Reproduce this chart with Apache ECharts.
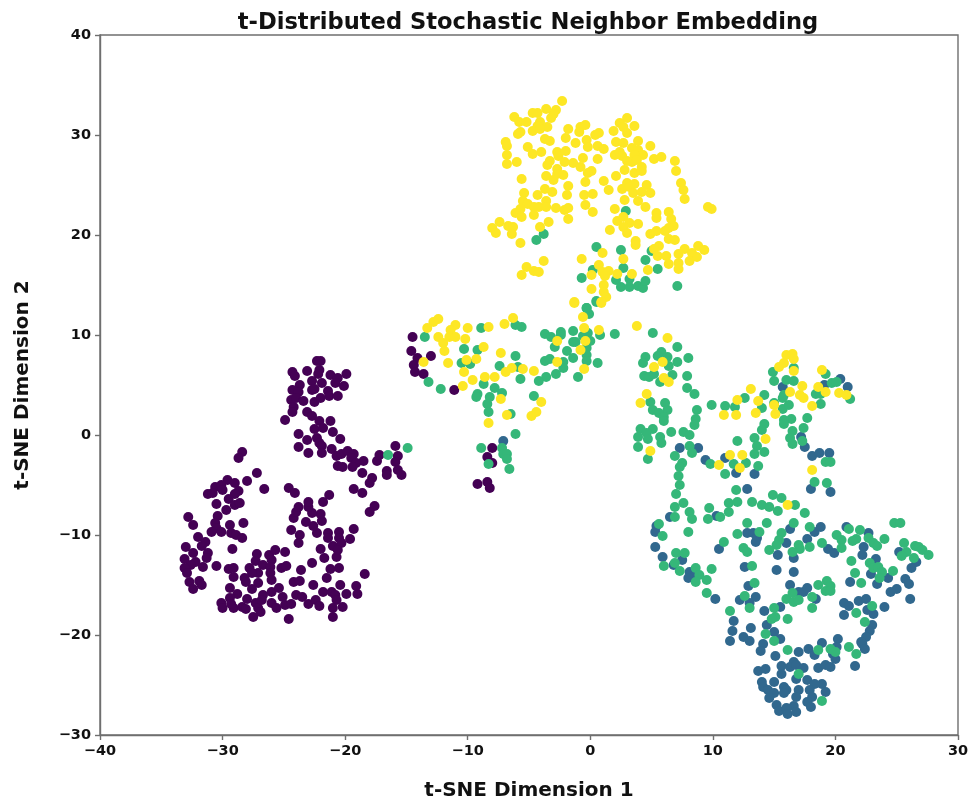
<!DOCTYPE html>
<html>
<head>
<meta charset="utf-8">
<style>html,body{margin:0;padding:0;background:#fff}#c{width:973px;height:804px}</style>
<script src="https://cdn.jsdelivr.net/npm/echarts@6/dist/echarts.min.js"></script>
</head>
<body>
<div id="c"></div>
<script>
const titleText = 't-Distributed Stochastic Neighbor Embedding';
const xName = 't-SNE Dimension 1';
const yName = 't-SNE Dimension 2';
const class0 = [[-22.3,7.4],[-22.0,7.4],[-23.1,6.4],[-24.3,6.3],[-24.1,5.9],[-22.1,6.5],[-22.2,6.1],[-21.2,6.0],[-19.9,6.1],[-20.6,5.7],[-22.7,5.4],[-23.7,5.0],[-21.9,5.2],[-20.8,5.2],[-20.1,4.9],[-24.3,4.5],[-23.8,4.3],[-22.7,4.5],[-22.5,4.6],[-21.4,4.4],[-21.3,3.9],[-20.6,3.9],[-24.4,3.5],[-24.0,3.7],[-23.4,3.4],[-22.5,3.3],[-22.0,3.7],[-24.2,2.8],[-24.3,2.3],[-24.9,1.5],[-23.1,2.3],[-22.7,1.9],[-22.1,1.4],[-21.2,1.4],[-22.5,0.6],[-21.8,0.7],[-21.0,0.3],[-23.8,0.1],[-22.3,-0.3],[-23.1,-0.5],[-20.4,-0.4],[-22.1,-0.8],[-23.8,-1.2],[-21.9,-1.1],[-23.0,-1.8],[-21.9,-1.8],[-21.1,-1.4],[-20.7,-2.1],[-20.3,-1.9],[-19.8,-1.6],[-19.3,-1.9],[-19.5,-2.3],[-18.5,-2.6],[-19.1,-2.8],[-17.4,-2.6],[-17.2,-2.0],[-15.9,-1.1],[-15.7,-2.1],[-15.9,-2.7],[-20.6,-3.1],[-20.2,-3.2],[-19.4,-3.2],[-18.6,-3.8],[-17.8,-4.3],[-18.0,-4.8],[-16.6,-3.6],[-16.6,-4.0],[-15.7,-3.5],[-15.4,-4.0],[-19.3,-5.4],[-18.6,-5.8],[-17.6,-7.1],[-18.0,-7.7],
[-28.4,-1.7],[-28.7,-2.3],[-27.2,-3.8],[-28.0,-4.6],[-29.6,-4.5],[-29.0,-4.8],[-30.6,-5.2],[-30.1,-5.0],[-31.2,-5.9],[-30.8,-5.8],[-30.0,-5.5],[-28.7,-5.6],[-29.0,-5.9],[-29.5,-6.4],[-26.6,-5.4],[-24.6,-5.3],[-24.1,-5.8],[-30.5,-6.9],[-29.0,-7.0],[-28.6,-6.8],[-29.7,-7.5],[-32.8,-8.2],[-30.4,-8.1],[-32.4,-9.0],[-30.6,-8.8],[-29.4,-9.0],[-28.3,-8.8],[-30.5,-9.3],[-30.9,-9.7],[-30.1,-9.7],[-29.3,-9.8],[-28.9,-10.0],[-28.4,-10.3],[-32.0,-10.2],[-31.4,-10.7],[-31.7,-11.1],[-33.0,-11.2],[-29.2,-11.4],[-32.4,-11.8],[-31.2,-11.8],[-31.3,-12.3],[-33.1,-12.4],[-32.2,-12.7],[-32.6,-13.0],[-31.6,-13.2],[-33.1,-13.3],[-32.9,-13.8],[-30.5,-13.1],[-32.7,-14.7],[-31.9,-14.6],[-31.7,-15.0],[-32.4,-15.4],[-29.5,-13.4],[-29.1,-13.3],[-29.1,-14.2],[-27.8,-13.3],[-27.2,-11.9],[-27.3,-12.6],[-26.7,-13.0],[-26.2,-12.0],[-25.7,-11.5],[-26.0,-12.5],[-24.9,-11.7],[-25.2,-13.3],[-24.8,-13.1],[-26.1,-13.2],[-27.1,-13.8],[-27.6,-13.8],[-26.1,-13.8],[-28.2,-14.3],[-28.1,-14.7],[-27.1,-14.8],[-27.6,-15.4],[-26.0,-14.5],[-29.4,-15.3],[-28.8,-15.9],[-29.4,-16.3],[-30.1,-16.8],[-30.0,-17.3],[-29.1,-17.3],[-29.3,-16.9],[-28.4,-17.2],[-28.1,-17.4],[-28.0,-16.4],[-27.5,-18.2],[-27.3,-16.8],[-27.1,-17.3],[-26.9,-17.7],[-26.7,-16.0],[-26.8,-16.5],[-26.0,-15.7],[-25.4,-15.3],[-25.1,-16.2],[-26.0,-16.8],[-25.6,-17.3],[-24.9,-17.0],[-24.4,-16.9],[-24.6,-18.4],[-24.0,-16.0],[-23.5,-16.2],[-23.0,-16.9],[-22.4,-16.5],[-22.1,-17.1],[-21.8,-15.7],[-21.1,-15.7],[-20.8,-16.0],[-20.4,-15.0],[-20.7,-16.5],[-19.9,-15.9],[-19.1,-15.1],[-19.0,-15.9],[-21.0,-17.3],[-20.2,-17.2],[-21.0,-18.2],[-24.2,-14.7],[-23.7,-14.6],[-22.6,-15.0],[-21.5,-14.3],[-23.6,-13.5],[-22.7,-12.8],[-21.2,-13.4],[-20.5,-13.3],[-18.4,-13.9],[-21.7,-12.3],[-22.0,-11.4],[-20.7,-12.2],[-24.4,-9.5],[-23.7,-10.0],[-23.8,-10.8],[-21.4,-9.8],[-21.4,-10.3],[-20.5,-9.7],[-20.5,-10.3],[-21.0,-11.1],[-20.3,-10.8],[-20.6,-11.5],[-19.6,-10.4],[-19.3,-9.4],[-22.3,-9.8],[-22.6,-9.1],[-23.2,-8.7],[-21.9,-8.6],[-22.0,-7.9],[-22.7,-7.8],[-23.0,-7.2],[-23.0,-6.7],[-24.2,-8.3],[-24.0,-7.7],[-23.8,-7.2],[-21.8,-6.7],[-21.3,-6.0],
[-14.5,9.8],[-14.6,8.4],[-14.1,7.7],[-13.0,7.9],[-14.4,7.0],[-14.3,6.3],[-13.6,6.1],[-11.1,4.5],[-8.0,-1.3],[-8.4,-2.2],[-8.0,-2.8],[-9.2,-4.9],[-8.4,-4.7],[-8.2,-5.3]];
const class1 = [[-7.1,-0.6],[7.3,-1.3],[8.8,-1.3],[9.4,-2.5],[11.0,-2.3],[11.9,-3.8],[13.4,-3.9],[15.7,4.8],[19.1,5.0],[20.4,5.6],[21.0,4.8],[17.2,-0.2],[17.5,-1.2],[18.1,-2.1],[18.7,-1.8],[19.5,-1.8],[18.0,-5.4],[19.6,-5.7],[12.8,-5.4],[10.3,-8.1],[6.5,-8.2],
[5.4,-9.1],[5.3,-9.7],[5.3,-11.2],[5.9,-12.2],[6.8,-13.0],[7.5,-12.5],[8.1,-13.7],[8.6,-13.9],[8.0,-14.3],[10.5,-11.4],[12.8,-9.8],[13.3,-9.8],[13.6,-10.3],[13.5,-10.7],[16.0,-10.8],[16.3,-9.4],[15.3,-12.0],[16.6,-12.3],[17.7,-10.4],[18.3,-9.7],[18.8,-9.2],[19.4,-11.4],[19.9,-11.8],[20.9,-9.2],[22.7,-9.8],[22.3,-11.2],[22.2,-12.0],[23.3,-12.4],[22.9,-13.9],[24.3,-14.3],[23.4,-14.9],[21.2,-14.7],[25.2,-11.7],[26.6,-12.7],[26.2,-13.3],[25.7,-14.4],[26.0,-14.9],[25.0,-15.4],[24.5,-15.7],[26.1,-16.4],[12.6,-13.2],[15.2,-13.5],[16.6,-13.7],[12.9,-15.1],[12.2,-16.5],[13.5,-16.2],[13.0,-16.8],[10.2,-16.4],[16.3,-15.0],[17.0,-15.7],[17.4,-15.7],[17.7,-15.3],[18.4,-16.4],[15.5,-17.2],[14.2,-17.6],[11.7,-18.6],[11.6,-19.6],[13.1,-19.3],[14.4,-19.0],[15.0,-19.7],[11.4,-20.6],[12.5,-20.2],[13.0,-20.6],[15.5,-20.4],[14.1,-20.9],[13.9,-21.6],[15.1,-22.1],[17.0,-21.7],[17.8,-21.4],[18.3,-22.0],[18.9,-20.8],[20.2,-20.4],[20.1,-21.2],[19.8,-21.9],[20.0,-22.4],[20.7,-16.8],[21.1,-17.1],[21.9,-16.6],[22.5,-16.4],[20.7,-18.0],[22.6,-17.5],[24.0,-17.2],[23.1,-17.9],[23.0,-19.0],[22.8,-19.6],[22.5,-20.2],[22.1,-20.7],[22.2,-20.9],[22.4,-21.4],[21.6,-23.1],[13.7,-23.6],[14.3,-23.4],[15.6,-23.1],[16.6,-22.7],[16.3,-23.2],[16.8,-23.0],[17.4,-23.3],[15.6,-23.9],[18.6,-23.3],[19.2,-23.0],[19.6,-23.2],[16.8,-24.4],[17.7,-24.5],[14.0,-24.7],[14.1,-25.2],[15.0,-24.7],[15.8,-25.2],[18.9,-24.9],[18.3,-24.9],[17.9,-25.5],[19.2,-25.7],[14.5,-25.5],[15.0,-25.8],[16.0,-25.5],[15.8,-25.8],[17.0,-25.5],[16.8,-26.2],[18.1,-26.2],[14.6,-26.3],[17.7,-26.7],[18.0,-27.2],[15.2,-27.0],[15.4,-27.6],[16.6,-27.1],[16.0,-27.3],[16.1,-27.9],[16.8,-27.7]];
const class2 = [[-16.5,-2.0],[-14.9,-1.3],[-13.5,9.8],[-8.9,10.7],[-6.1,11.0],[-5.6,10.8],[-3.7,10.1],[-3.2,9.8],[-2.4,10.3],[-2.4,10.0],[-1.4,10.4],[-0.6,9.9],[-0.2,10.2],[0.8,10.0],[2.0,10.1],[-2.9,8.8],[-1.4,9.3],[-1.2,9.3],[0.0,9.4],[-0.3,8.7],[-1.9,8.4],[-1.4,7.7],[-0.3,8.0],[-0.3,7.4],[0.6,7.2],[-3.7,7.4],[-3.3,7.6],[-2.2,7.3],[-2.2,6.7],[-2.8,6.1],[-3.6,5.8],[-4.2,5.4],[-1.0,5.8],[-10.3,8.6],[-9.2,8.5],[-10.5,7.2],[-9.8,7.1],[-6.1,7.9],[-7.4,6.9],[-5.9,6.8],[-5.7,5.6],[-13.2,5.3],[-12.2,4.6],[-8.7,5.1],[-7.8,4.7],[-7.2,4.2],[-9.2,4.1],[-9.3,3.8],[-8.2,3.8],[-8.4,3.1],[-8.3,2.3],[-6.5,2.1],[-4.6,3.9],[-6.1,0.1],[-8.9,-1.3],[-7.2,-1.3],[-7.1,-1.9],[-6.8,-1.9],[-6.8,-2.4],[-8.3,-2.9],[-6.6,-3.4],[-0.3,12.7],[-0.1,12.1],[0.5,13.3],
[2.9,22.4],[-3.8,20.1],[-4.4,19.5],[0.5,18.8],[2.5,18.5],[5.0,18.4],[4.5,17.5],[5.5,16.6],[2.7,16.7],[0.2,16.5],[-0.7,15.7],[2.1,15.5],[3.2,15.6],[2.5,14.8],[3.2,14.8],[3.9,14.9],[4.3,14.7],[4.5,15.4],[7.1,14.9],[0.5,13.4],[-0.3,12.7],
[5.1,10.2],[7.1,8.8],[8.0,7.7],[4.5,7.8],[4.3,7.2],[5.8,8.3],[5.5,7.9],[6.3,7.8],[7.1,7.3],[6.4,6.9],[6.7,6.0],[7.9,5.9],[4.4,5.9],[4.8,5.8],[5.2,6.1],[5.7,5.3],[7.9,4.7],[8.5,4.1],[4.9,3.3],[6.1,3.2],[5.1,2.5],[6.3,2.5],[5.6,2.2],[6.0,1.8],[6.0,1.4],[8.7,2.5],[8.6,1.6],[8.5,1.0],[4.1,0.6],[5.1,0.6],[4.6,0.2],[4.7,-0.4],[3.9,-0.2],[3.9,-1.2],[5.7,-0.2],[5.8,-0.8],[6.6,0.3],[7.6,0.3],[8.1,0.0],[8.1,-1.1],[8.3,-1.8],[4.7,-2.4],[6.9,-2.1],[7.5,-2.8],[7.3,-3.2],[7.2,-4.1],[7.3,-5.0],[7.0,-5.9],[7.6,-6.8],[6.9,-7.2],[8.1,-7.7],[6.9,-8.2],[8.3,-8.4],[9.9,3.0],[11.0,2.9],[11.8,2.8],[12.6,3.7],[14.2,4.0],[14.0,2.7],[15.0,3.2],[15.7,2.6],[15.8,4.0],[16.2,3.0],[14.9,6.3],[15.0,5.4],[16.6,6.7],[16.0,5.5],[16.6,5.4],[15.7,3.7],[18.4,4.1],[18.8,4.1],[19.2,6.1],[19.7,5.2],[20.1,5.3],[21.2,3.6],[18.8,3.1],[17.7,1.7],[17.4,0.7],[16.4,1.6],[15.8,1.5],[15.8,1.1],[14.2,1.1],[14.0,0.5],[13.4,-0.3],[12.0,-0.6],[16.5,0.4],[16.3,-0.3],[16.5,-0.9],[17.3,-0.6],[13.6,-1.1],[13.4,-1.9],[14.2,-1.7],[12.7,-2.8],[11.7,-2.9],[13.7,-3.1],[9.8,-2.9],[11.0,-3.9],[19.2,-2.7],[19.6,-2.7],[18.3,-4.7],[19.3,-4.8],[11.9,-5.5],[14.9,-6.0],[15.6,-6.3],[16.7,-7.0],[17.5,-7.8],[11.3,-6.8],[12.0,-6.7],[13.2,-6.7],[14.0,-7.0],[14.6,-7.2],[15.3,-7.6],[9.7,-7.3],[11.3,-7.7],[10.6,-8.2],[9.6,-8.4],
[5.6,-8.9],[5.9,-10.1],[8.0,-9.7],[12.8,-8.8],[14.4,-8.8],[16.6,-8.8],[17.9,-9.2],[12.0,-9.9],[10.9,-10.7],[13.8,-9.7],[15.6,-9.8],[15.4,-10.5],[15.2,-11.0],[14.6,-11.5],[12.5,-11.3],[12.8,-11.7],[17.0,-11.0],[17.1,-11.4],[16.5,-11.7],[17.9,-11.2],[18.9,-10.8],[20.1,-10.0],[20.5,-10.5],[20.5,-11.3],[21.1,-9.4],[22.0,-9.5],[21.7,-10.4],[21.4,-10.6],[22.7,-10.3],[23.1,-10.8],[23.4,-11.1],[24.0,-10.4],[24.8,-8.8],[25.3,-8.8],[25.6,-10.8],[25.8,-11.7],[25.4,-12.1],[26.5,-11.1],[26.8,-11.2],[27.1,-11.5],[27.6,-12.0],[26.4,-12.3],[21.3,-12.6],[21.6,-13.8],[22.1,-14.8],[22.8,-12.8],[23.1,-13.3],[23.5,-13.2],[23.8,-13.7],[23.6,-14.3],[24.7,-13.6],[7.0,-11.8],[7.7,-11.8],[6.0,-13.1],[6.9,-12.8],[7.3,-13.6],[8.6,-13.3],[8.9,-14.0],[8.6,-14.7],[9.9,-13.4],[9.5,-14.5],[9.5,-15.8],[13.2,-13.1],[13.4,-14.8],[12.6,-16.1],[13.0,-17.3],[11.4,-17.6],[15.0,-17.3],[15.1,-18.2],[14.8,-18.4],[16.1,-18.4],[18.1,-17.3],[18.1,-16.2],[16.0,-16.4],[16.5,-15.8],[16.6,-16.7],[17.0,-16.5],[18.6,-15.0],[19.3,-14.6],[19.6,-15.1],[19.2,-15.6],[19.6,-15.6],[21.7,-17.8],[22.4,-18.7],[23.0,-17.1],[14.3,-19.9],[15.0,-20.6],[16.1,-21.5],[18.6,-21.5],[19.6,-21.4],[20.0,-21.7],[21.1,-21.2],[21.7,-21.9],[17.0,-23.9],[18.9,-26.6]];
const class3 = [[-12.4,11.6],[-12.8,11.3],[-13.3,10.7],[-11.0,11.0],[-11.4,10.5],[-10.0,10.7],[-8.3,10.8],[-7.0,11.1],[-6.3,11.7],[-12.4,9.8],[-11.5,9.8],[-11.0,9.8],[-10.2,9.6],[-12.0,9.2],[-11.9,8.4],[-8.7,8.8],[-9.3,7.6],[-10.1,7.5],[-13.6,7.3],[-11.6,7.2],[-7.3,8.2],[-10.3,6.3],[-6.4,6.7],[-6.9,6.3],[-5.5,6.6],[-4.6,6.4],[-8.6,5.8],[-7.8,5.8],[-9.6,5.5],[-10.4,4.9],[-7.3,3.6],[-4.0,3.3],[-4.4,2.3],[-4.8,1.9],[-6.8,2.0],[-8.3,1.2],[-2.7,9.4],[-0.4,9.4],[-0.8,8.5],[0.7,10.5],[-0.5,10.7],[-2.7,7.3],[-0.5,6.6],[3.8,10.9],[-1.3,13.2],[-0.6,11.8],[0.9,13.2],
[-2.3,33.4],[-2.8,32.5],[-3.0,32.1],[-3.2,31.7],[-3.6,32.6],[-4.3,32.2],[-4.7,32.2],[-6.2,31.8],[-5.8,31.3],[-5.2,31.3],[-4.1,31.3],[-4.3,30.9],[-3.5,30.8],[-4.7,30.4],[-4.1,30.6],[-5.7,30.3],[-5.9,30.1],[-1.8,30.6],[-0.8,30.8],[-0.4,31.0],[-0.9,30.3],[-2.0,29.7],[-3.7,29.6],[-3.3,29.4],[-1.2,29.2],[0.4,30.0],[0.7,30.2],[-0.3,29.5],[-0.2,28.8],[0.6,28.9],[1.1,28.6],[1.9,30.4],[2.4,31.2],[3.0,31.7],[3.6,30.9],[2.7,30.8],[3.0,30.2],[2.1,29.3],[2.7,29.2],[3.9,29.4],[4.9,28.9],[-6.9,29.3],[-6.8,28.9],[-6.8,28.0],[-6.8,27.1],[-6.0,27.3],[-5.1,28.8],[-4.7,28.1],[-4.0,28.3],[-2.7,28.3],[-2.6,27.9],[-2.0,28.4],[-3.3,27.4],[-3.5,27.0],[-2.1,27.3],[-1.4,27.2],[-0.6,27.7],[-0.8,26.8],[0.6,27.6],[2.0,28.0],[2.4,28.3],[2.6,27.9],[3.4,28.7],[3.9,28.5],[4.3,28.0],[3.6,28.0],[3.0,27.4],[3.4,27.3],[3.8,27.5],[5.2,27.6],[5.8,27.8],[6.9,27.4],[7.0,26.4],[4.2,26.8],[2.8,26.5],[3.6,26.2],[4.2,26.4],[-2.7,26.6],[-3.6,25.9],[-2.7,26.1],[-2.2,26.0],[-3.0,25.5],[0.1,26.4],[-0.2,26.2],[-0.4,25.3],[-5.6,25.6],[1.1,25.4],[2.1,25.9],[-1.8,24.9],[1.5,24.5],[2.6,24.6],[3.0,25.2],[3.6,25.1],[3.2,24.8],[4.6,25.0],[7.4,25.2],[7.6,24.5],[7.7,23.6],[-3.7,24.6],[-3.1,24.3],[-4.3,24.0],[-5.4,24.2],[-1.9,24.0],[-0.5,24.0],[0.2,24.1],[3.5,24.2],[4.2,24.3],[4.9,24.2],[2.8,23.5],[3.9,23.4],[-5.5,23.4],[-5.1,23.1],[-3.6,23.4],[-4.6,22.8],[-4.2,22.8],[-3.6,22.8],[-5.7,22.6],[-6.1,22.2],[-5.6,21.8],[-4.6,22.0],[-2.8,22.7],[-2.1,22.5],[-1.8,22.7],[-0.4,23.0],[0.2,22.3],[2.0,22.6],[4.5,22.8],[-1.8,21.6],[-3.4,21.3],[2.2,21.4],[2.7,21.8],[3.2,21.2],[3.9,21.1],[5.4,22.2],[5.4,21.7],[6.4,22.3],[6.6,21.6],[6.8,20.9],[6.4,20.7],[9.6,22.8],[9.9,22.6],[-7.4,21.3],[-8.0,20.7],[-7.7,20.2],[-6.7,20.9],[-6.3,20.8],[-6.4,20.1],[-4.1,20.8],[-5.7,19.2],[1.6,20.5],[2.7,20.8],[3.0,20.2],[4.9,20.1],[5.4,20.4],[6.1,20.4],[6.4,19.6],[6.9,19.5],[3.7,19.4],[3.7,19.0],[5.6,18.9],[5.2,18.6],[5.5,17.9],[6.2,17.9],[7.2,18.1],[7.7,18.6],[8.3,18.2],[8.8,18.9],[9.3,18.5],[8.7,17.8],[8.1,17.4],[7.2,17.2],[7.2,16.6],[6.4,17.1],[4.7,16.5],[1.0,18.2],[-0.7,17.6],[2.7,17.6],[-3.8,17.4],[-5.2,16.8],[-4.6,16.4],[-4.2,16.3],[-5.6,16.0],[0.7,17.0],[1.0,16.3],[1.5,16.4],[1.2,15.9],[0.1,16.0],[2.2,16.1],[3.4,16.1],[1.1,15.0],[0.1,14.6],[1.1,14.3],[1.3,13.8],[0.9,13.3],[-1.3,13.3],
[6.3,9.7],[5.2,6.8],[5.9,7.3],[6.0,5.7],[6.4,5.3],[4.6,4.1],[4.1,3.2],[4.9,-1.6],[16.0,8.0],[16.5,8.1],[16.6,7.6],[15.8,7.2],[15.4,6.8],[16.6,6.4],[18.9,6.5],[13.1,4.6],[12.0,3.5],[13.7,3.4],[10.9,2.0],[11.9,2.0],[13.5,2.2],[15.1,2.1],[15.0,3.0],[16.3,4.3],[17.3,4.9],[17.1,4.0],[17.4,3.7],[18.1,2.9],[18.6,4.8],[19.2,4.3],[20.3,4.2],[20.9,4.0],[14.3,-0.4],[11.4,-2.0],[12.4,-2.0],[10.5,-3.0],[12.2,-3.3],[18.1,-3.5],[16.1,-7.0]];
const classColors = ['#440154', '#31688e', '#35b779', '#fde725'];
const xTicks = {min: -40, max: 30, step: 10};
const yTicks = {min: -30, max: 40, step: 10};

const font = 'DejaVu Sans';
const frame = '#6f6f6f';
const minus = v => String(v).replace('-', '\u2212');
const axisCommon = {
  type: 'value',
  nameLocation: 'middle',
  nameTextStyle: {fontFamily: font, fontWeight: 'bold', fontSize: 20, color: '#111'},
  splitLine: {show: false},
  axisLine: {onZero: false, lineStyle: {color: frame, width: 1.4}},
  axisTick: {length: 5, lineStyle: {color: frame, width: 1.4}},
  axisLabel: {fontFamily: font, fontWeight: 'bold', fontSize: 14.5, color: '#111', margin: 9, formatter: minus, showMinLabel: true, showMaxLabel: true}
};
const chart = echarts.init(document.getElementById('c'));
chart.setOption({
  animation: false,
  backgroundColor: '#fff',
  title: {text: titleText, left: 523, top: 7, textAlign: 'center',
    textStyle: {fontFamily: font, fontWeight: 'bold', fontSize: 22.6, color: '#111'}},
  grid: {left: 100, right: 15, top: 35, bottom: 69, show: true, borderColor: frame, borderWidth: 1.4, backgroundColor: 'transparent', outerBoundsMode: 'none'},
  xAxis: Object.assign({}, axisCommon, {name: xName, nameGap: 46, min: xTicks.min, max: xTicks.max, interval: xTicks.step}),
  yAxis: Object.assign({}, axisCommon, {name: yName, nameGap: 67, min: yTicks.min, max: yTicks.max, interval: yTicks.step}),
  series: [class0, class1, class2, class3].map((d, i) => ({
    type: 'scatter', data: d, symbolSize: 10, itemStyle: {color: classColors[i], opacity: 1}, z: 2 + i
  }))
});
</script>
</body>
</html>
